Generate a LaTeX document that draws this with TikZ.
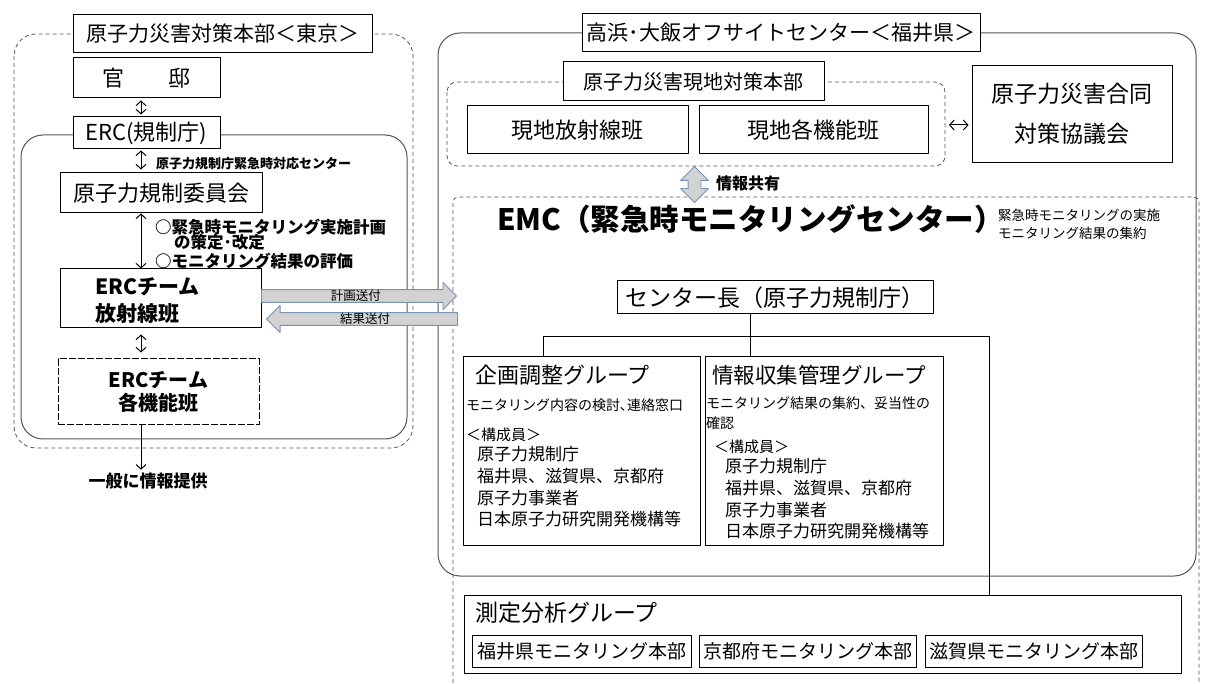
\documentclass[tikz,border=0pt]{standalone}
\usepackage{fontspec}
\setmainfont{Noto Sans CJK JP}
\usetikzlibrary{positioning,shapes.arrows,arrows.meta}

\definecolor{framegray}{RGB}{85,85,85}
\definecolor{arrowgray}{RGB}{210,210,210}
\definecolor{arrowblue}{RGB}{120,145,180}

\newcommand\fs[1]{\fontsize{#1}{#1}\selectfont}

\tikzset{
  box/.style={draw, line width=1pt, fill=white, inner sep=0pt},
  dbox/.style={box, dash pattern=on 7pt off 2pt},
  frame/.style={draw=framegray, line width=1pt, rounded corners=22},
  dframe/.style={frame, dash pattern=on 4pt off 3pt, line width=0.8pt},
  txt/.style={inner sep=0pt, anchor=west},
  tree/.style={line width=0.8pt},
  link/.style={line width=1pt},
  sendarrow/.style={single arrow, draw=arrowblue, fill=arrowgray, line width=0.9pt,
    minimum width=27, single arrow head extend=7, inner sep=0pt, font=\fs{12.5}},
  sharearrow/.style={double arrow, draw=arrowblue, fill=arrowgray, line width=0.9pt,
    minimum height=36, double arrow head extend=7.5, inner sep=0pt,
    shape border rotate=90},
}

\begin{document}
\begin{tikzpicture}[>={Straight Barb[length=4.5pt,width=10pt]}, line join=bevel, x=1pt, y=-1pt]
\useasboundingbox (0,0) rectangle (1205,684);
%% Tokyo side
\draw [dframe] (14,34) rectangle (413,448);
\draw [frame] (21,135) rectangle (407,439);
\node (tokyo) at (222.5,34) [box, minimum width=299, minimum height=38, font=\fs{21}] {原子力災害対策本部＜東京＞};
\node (kantei) at (146.5,78) [box, minimum width=147, minimum height=40, font=\fs{22}] {官　　邸};
\node (erc) at (146.5,133) [box, minimum width=147, minimum height=32, font=\fs{22}] {ERC(規制庁)};
\node (iinkai) at (161,193) [box, minimum width=202, minimum height=40, font=\fs{22}] {原子力規制委員会};
\node (housha) at (160.5,298.5) [box, minimum width=201, minimum height=59] {};
\node (housha-t) at (95,300.5) [txt, align=left, font=\bfseries\fontsize{21}{27}\selectfont] {ERCチーム\\放射線班};
\node (kakukino) at (158.5,392) [dbox, minimum width=201, minimum height=66, align=center, font=\bfseries\fontsize{20}{23}\selectfont] {ERCチーム\\各機能班};
\node (ippan) at (148,481) [inner sep=0pt, font=\bfseries\fs{17}] {一般に情報提供};
\node (erc-lbl) at (156,164) [txt, font=\bfseries\fs{13}] {原子力規制庁緊急時対応センター};
\node (plan1) at (155,227) [txt, font=\bfseries\fs{16.5}] {○緊急時モニタリング実施計画};
\node (plan2) at (174,242) [txt, font=\bfseries\fs{16.5}] {の策定･改定};
\node (plan3) at (155,261) [txt, font=\bfseries\fs{16.5}] {○モニタリング結果の評価};
\coordinate (lcol) at (141,0);
\draw [link, <->, shorten <=2, shorten >=2] (lcol |- kantei.south) -- (lcol |- erc.north);
\draw [link, <->, shorten <=1, shorten >=3] (lcol |- erc.south) -- (lcol |- iinkai.north);
\draw [link, <->] (lcol |- iinkai.south) -- (lcol |- housha.north);
\draw [link, <->, shorten <=6, shorten >=6] (lcol |- housha.south) -- (lcol |- kakukino.north);
\draw [link, ->, shorten >=3] (lcol |- kakukino.south) -- (lcol |- ippan.north);
%% Fukui side
\draw [frame] (438,33) rectangle (1196,576);
\node (takahama) at (781,33) [box, minimum width=398, minimum height=38, font=\fs{21}] {高浜･大飯オフサイトセンター＜福井県＞};
\draw [dframe, rounded corners=10] (447,82) rectangle (945,166);
\node (genchi) at (693.5,81.5) [box, minimum width=261, minimum height=39, font=\fs{20}] {原子力災害現地対策本部};
\node (g-housha) at (577.5,130) [box, minimum width=221, minimum height=48, font=\fs{22}] {現地放射線班};
\node (g-kakukino) at (813.5,130) [box, minimum width=229, minimum height=48, font=\fs{22}] {現地各機能班};
\node (godo) at (1072,114) [box, minimum width=200, minimum height=97, align=center, font=\fontsize{23}{40}\selectfont] {原子力災害合同\\対策協議会};
\coordinate (gright) at (946,125);
\draw [link, <->, shorten <=3, shorten >=3] (gright) -- (godo.west |- gright);
%% EMC
\draw [dframe, rounded corners=5] (453,690) -- (453,197) -- (1199,197) -- (1199,690);
\node (kyoyu) at (694.5,184.5) [sharearrow] {\rule{12pt}{0pt}};
\node (kyoyu-t) at (716,183) [txt, font=\bfseries\fs{16}] {情報共有};
\node (emc) at (497,219) [txt, font=\bfseries\fs{29.5}] {EMC（緊急時モニタリングセンター）};
\node (emc-note) at (998,224) [txt, align=left, font=\fontsize{13.5}{18}\selectfont] {緊急時モニタリングの実施\\モニタリング結果の集約};
\node (cho) at (775,297.5) [box, minimum width=316, minimum height=33, font=\fs{23}] {センター長（原子力規制庁）};
\node (kikaku) at (581.5,451) [box, minimum width=237, minimum height=188] {};
\node (joho) at (824,451) [box, minimum width=238, minimum height=188] {};
\node (kikaku-t) at (475,375) [txt, font=\fs{22}] {企画調整グループ};
\node (kikaku-s) at (466,405) [txt, font=\fs{14}] {モニタリング内容の検討､連絡窓口};
\node (kikaku-m) at (466,435) [txt, font=\fs{15}] {＜構成員＞};
\node (kikaku-l) at (477,487) [txt, align=left, font=\fontsize{17}{21.7}\selectfont] {原子力規制庁\\福井県、滋賀県、京都府\\原子力事業者\\日本原子力研究開発機構等};
\node (joho-t) at (712,375) [txt, font=\fs{21.5}] {情報収集管理グループ};
\node (joho-s) at (706,413) [txt, align=left, font=\fontsize{14}{20}\selectfont] {モニタリング結果の集約、妥当性の\\確認};
\node (joho-m) at (714,447) [txt, font=\fs{15}] {＜構成員＞};
\node (joho-l) at (725,499) [txt, align=left, font=\fontsize{17}{21.7}\selectfont] {原子力規制庁\\福井県、滋賀県、京都府\\原子力事業者\\日本原子力研究開発機構等};
\node (sokutei) at (822.5,634) [box, minimum width=717, minimum height=78] {};
\node (sokutei-t) at (475,613) [txt, font=\fs{23}] {測定分析グループ};
\node (fukui) at (581.5,651) [box, minimum width=219, minimum height=32, font=\fs{19}] {福井県モニタリング本部};
\node (kyoto) at (807.5,651) [box, minimum width=217, minimum height=32, font=\fs{19}] {京都府モニタリング本部};
\node (shiga) at (1033.5,651) [box, minimum width=217, minimum height=32, font=\fs{19}] {滋賀県モニタリング本部};
\coordinate (hub) at (750,336);
\coordinate (hubl) at (543,336);
\coordinate (hubr) at (989,336);
\draw [tree] (hub |- cho.south) -- (hub);
\draw [tree] (hubl |- kikaku.north) -- (hubl) -- (hubr) -- (hubr |- sokutei.north);
\draw [tree] (hub) -- (hub |- joho.north);
%% plan / result
\node (keikaku) at (261,296) [sendarrow, anchor=tail, minimum height=195] {計画送付};
\node (kekka) at (458,319) [sendarrow, anchor=tail, shape border rotate=180, minimum height=191] {結果送付};
%
\end{tikzpicture}
\end{document}
